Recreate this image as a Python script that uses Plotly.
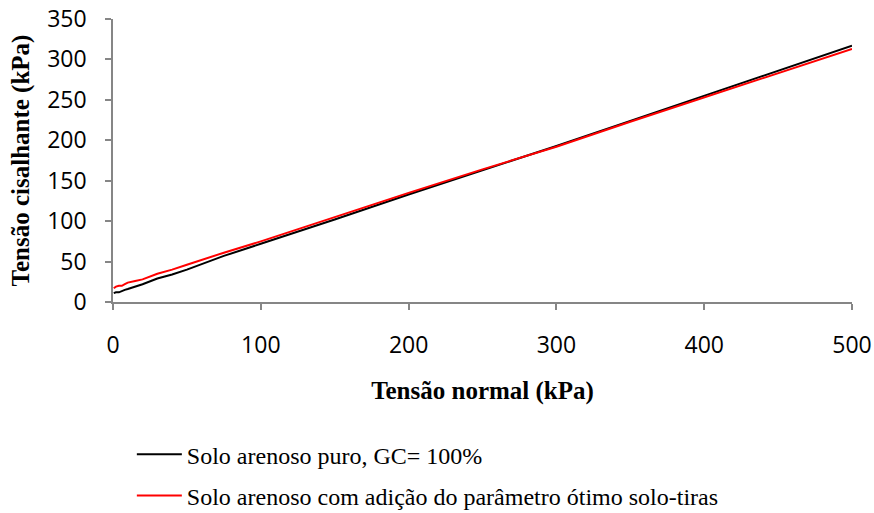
import plotly.graph_objects as go

# Data
normal_black = [0.5, 2, 4, 6, 8, 10, 15, 20, 30, 40, 50, 75, 100, 150, 200, 250, 300, 350, 400, 450, 500]
shear_black = [11, 12, 12, 14, 15, 16, 19, 22, 29, 34, 40, 57, 72, 102, 133, 163, 193, 224, 255, 286, 317]

normal_red = [0.5, 2, 4, 6, 8, 10, 15, 20, 30, 40, 50, 75, 100, 150, 200, 250, 300, 350, 400, 450, 500]
shear_red = [17, 19, 20, 20, 22, 24, 26, 28, 35, 40, 46, 61, 75, 105, 135, 164, 192, 223, 253, 283, 313]

name_black = "Solo arenoso puro, GC= 100%"
name_red = "Solo arenoso com adição do parâmetro ótimo solo-tiras"

fig = go.Figure()
fig.add_trace(go.Scatter(x=normal_black, y=shear_black, mode="lines", name=name_black,
                         line=dict(color="black", width=2), legendgroup="a"))
fig.add_trace(go.Scatter(x=normal_red, y=shear_red, mode="lines", name=name_red,
                         line=dict(color="red", width=2), legendgroup="b"))

axis_color = "#868686"
tick_font = dict(family="Open Sans, Liberation Sans, sans-serif", size=23, color="black")
title_font = dict(family="Liberation Serif, Times New Roman, serif", size=25, color="black")

fig.update_layout(
    width=874, height=513,
    margin=dict(l=113, r=22, t=19, b=211, autoexpand=False),
    paper_bgcolor="white", plot_bgcolor="white",
    showlegend=True,
    legend=dict(x=0.0255, y=-0.46, xanchor="left", yanchor="top", itemwidth=45,
                font=dict(family="Liberation Serif, Times New Roman, serif", size=24, color="black"),
                traceorder="grouped", tracegroupgap=7, bgcolor="rgba(0,0,0,0)"),
    xaxis=dict(range=[0, 500], dtick=100, showgrid=False, zeroline=False,
               showline=True, linecolor=axis_color, linewidth=1.5,
               ticks="outside", ticklen=6, tickcolor=axis_color, tickwidth=1.5,
               tickfont=tick_font, ticklabelstandoff=16, automargin=False,
               title=dict(text="<b>Tensão normal (kPa)</b>", font=title_font, standoff=22)),
    yaxis=dict(range=[0, 350], dtick=50, showgrid=False, zeroline=False,
               showline=True, linecolor=axis_color, linewidth=1.5,
               ticks="outside", ticklen=6, tickcolor=axis_color, tickwidth=1.5,
               tickfont=tick_font, ticklabelstandoff=14, automargin=False,
               title=dict(text="<b>Tensão cisalhante (kPa)</b>", font=title_font, standoff=10)),
)

fig.write_html("out.html")
